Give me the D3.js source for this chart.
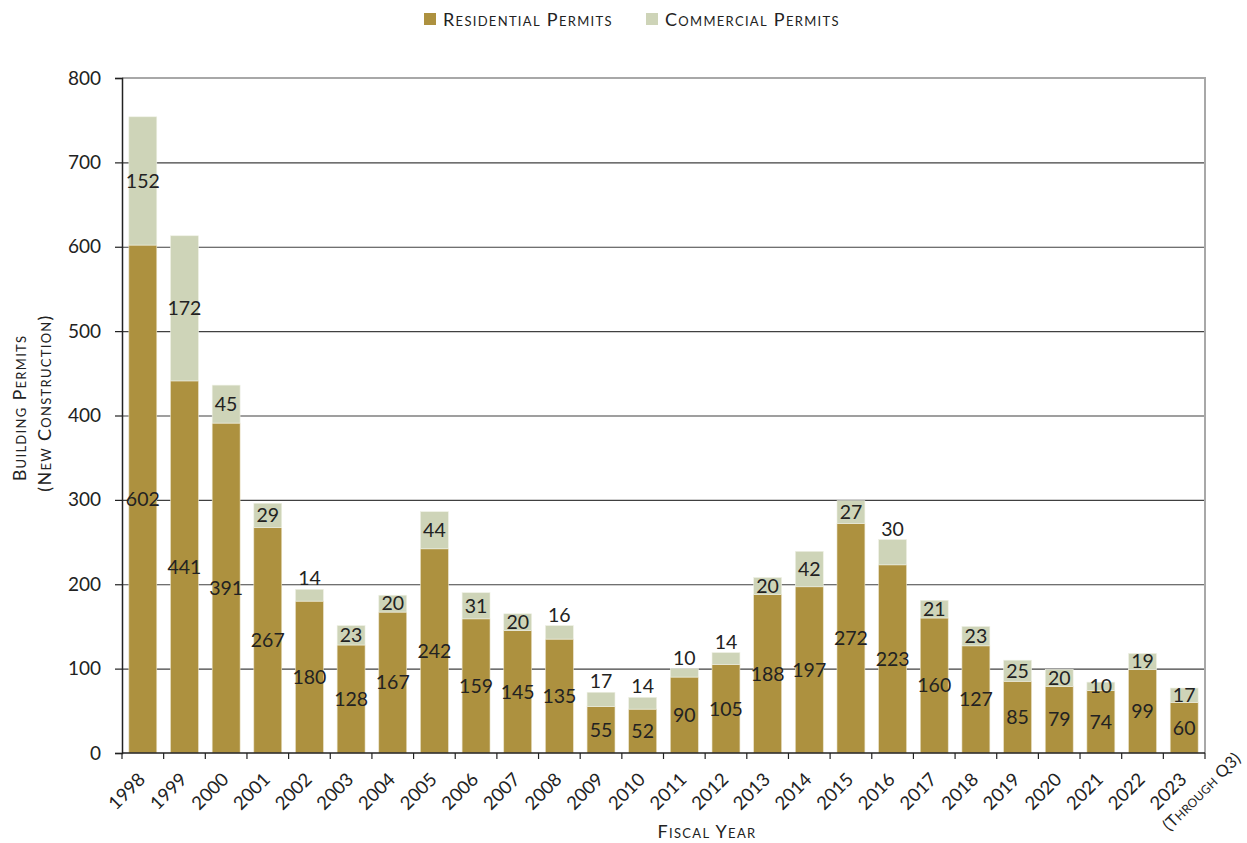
<!DOCTYPE html>
<html>
<head>
<meta charset="utf-8">
<script src="https://cdn.jsdelivr.net/npm/d3@7"></script>
<style>
  html, body { margin: 0; padding: 0; background: #fff; }
  svg { display: block; font-family: Lato, "Open Sans", sans-serif; }
</style>
</head>
<body>
<svg id="chart" width="1247" height="843"></svg>
<script>
// Fiscal years and permit counts (new construction)
const years = ["1998","1999","2000","2001","2002","2003","2004","2005","2006","2007","2008","2009","2010",
               "2011","2012","2013","2014","2015","2016","2017","2018","2019","2020","2021","2022","2023"];
const residential = [602,441,391,267,180,128,167,242,159,145,135,55,52,90,105,188,197,272,223,160,127,85,79,74,99,60];
const commercial  = [152,172,45,29,14,23,20,44,31,20,16,17,14,10,14,20,42,27,30,21,23,25,20,10,19,17];
const yTicks = [0,100,200,300,400,500,600,700,800];
// years whose commercial count is printed above the bar instead of inside it
const labelAboveYears = ["2002","2008","2009","2010","2011","2012","2016"];
const seriesNames = ["Residential Permits","Commercial Permits"];

const colors = { residential: "#ad913f", commercial: "#ced4b8" };
const plotLeft = 122, plotRight = 1205, plotTop = 78, plotBottom = 753;

const svg = d3.select("#chart");

const x = d3.scaleBand().domain(years).range([plotLeft, plotRight]).paddingInner(0.33).paddingOuter(0.165);
const y = d3.scaleLinear().domain([0, 800]).range([plotBottom, plotTop]);

// horizontal gridlines
svg.append("g")
  .attr("transform", `translate(${plotLeft},0)`)
  .call(d3.axisLeft(y).tickValues(yTicks.filter(v => v > 0 && v < 800)).tickSize(-(plotRight - plotLeft)).tickFormat(""))
  .call(g => g.select(".domain").remove())
  .call(g => g.selectAll("line").attr("stroke", "#404040").attr("stroke-width", 1.2));

// plot frame: top and right edges
svg.append("path")
  .attr("d", `M${plotLeft},${y(800)}H${plotRight}V${plotBottom}`)
  .attr("fill", "none").attr("stroke", "#a8a8a8").attr("stroke-width", 2);

const rows = years.map((yr, i) => ({ year: yr, res: residential[i], com: commercial[i] }));

// stacked bars
const barG = svg.append("g");
barG.selectAll("rect.res").data(rows).join("rect")
  .attr("class", "res")
  .attr("x", d => x(d.year)).attr("width", x.bandwidth())
  .attr("y", d => y(d.res)).attr("height", d => y(0) - y(d.res))
  .attr("fill", colors.residential).attr("stroke", "#e9e2c8").attr("stroke-width", 0.6);
barG.selectAll("rect.com").data(rows).join("rect")
  .attr("class", "com")
  .attr("x", d => x(d.year)).attr("width", x.bandwidth())
  .attr("y", d => y(d.res + d.com)).attr("height", d => y(d.res) - y(d.res + d.com))
  .attr("fill", colors.commercial).attr("stroke", "#eef0e4").attr("stroke-width", 0.6);

// y axis
svg.append("g")
  .attr("transform", `translate(${plotLeft},0)`)
  .call(d3.axisLeft(y).tickValues(yTicks).tickSize(7).tickPadding(14).tickFormat(d3.format("d")))
  .call(g => g.select(".domain").attr("stroke", "#222").attr("stroke-width", 1.5))
  .call(g => g.selectAll("line").attr("stroke", "#222").attr("stroke-width", 1.2))
  .call(g => g.selectAll("text").attr("font-size", 19).attr("fill", "#222")
    .attr("font-family", "Lato, 'Open Sans', sans-serif"));

// x axis line and category separators
svg.append("line")
  .attr("x1", plotLeft).attr("x2", plotRight).attr("y1", plotBottom).attr("y2", plotBottom)
  .attr("stroke", "#222").attr("stroke-width", 1.5);
svg.append("g").selectAll("line").data(d3.range(years.length + 1)).join("line")
  .attr("x1", i => x.range()[0] + i * x.step()).attr("x2", i => x.range()[0] + i * x.step())
  .attr("y1", plotBottom).attr("y2", plotBottom + 6)
  .attr("stroke", "#222").attr("stroke-width", 1.2);

// x tick labels, rotated
const xl = svg.append("g").selectAll("g").data(years).join("g")
  .attr("transform", d => `translate(${x(d) + x.bandwidth() / 2 - 1},776) rotate(-45)`);
xl.append("text")
  .attr("text-anchor", "end").attr("dy", "0.35em")
  .attr("font-size", 18.5).attr("fill", "#222")
  .text(d => d);
xl.filter(d => d === "2023").append("text")
  .attr("text-anchor", "middle").attr("x", 2).attr("y", 24).attr("dy", "0.35em")
  .attr("font-size", 16.5).attr("fill", "#222").style("font-variant", "small-caps")
  .style("letter-spacing", "0.3px")
  .text("(Through Q3)");

// value labels
const labG = svg.append("g").attr("font-size", 19.5).attr("fill", "#222").attr("text-anchor", "middle");
labG.selectAll("text.res").data(rows).join("text")
  .attr("class", "res")
  .attr("x", d => x(d.year) + x.bandwidth() / 2)
  .attr("y", d => (y(0) + y(d.res)) / 2).attr("dy", "0.35em")
  .text(d => d.res);
labG.selectAll("text.com").data(rows).join("text")
  .attr("class", "com")
  .attr("x", d => x(d.year) + x.bandwidth() / 2)
  .attr("y", d => labelAboveYears.includes(d.year) ? y(d.res + d.com) - 4 : (y(d.res) + y(d.res + d.com)) / 2)
  .attr("dy", d => labelAboveYears.includes(d.year) ? "0" : "0.35em")
  .text(d => d.com);

// axis titles
const titleStyle = t => t.attr("fill", "#222").style("font-variant", "small-caps")
  .attr("font-size", 18).style("letter-spacing", "1.3px");
svg.append("text").attr("transform", "translate(26,408) rotate(-90)")
  .attr("text-anchor", "middle").call(titleStyle).text("Building Permits");
svg.append("text").attr("transform", "translate(51,403) rotate(-90)")
  .attr("text-anchor", "middle").call(titleStyle).text("(New Construction)");
svg.append("text").attr("x", 707).attr("y", 838)
  .attr("text-anchor", "middle").call(titleStyle).text("Fiscal Year");

// legend
const legend = svg.append("g");
const legendItems = [
  { name: seriesNames[0], color: colors.residential, x: 424 },
  { name: seriesNames[1], color: colors.commercial, x: 646 }
];
const li = legend.selectAll("g").data(legendItems).join("g")
  .attr("transform", d => `translate(${d.x},13)`);
li.append("rect").attr("width", 12).attr("height", 12).attr("fill", d => d.color);
li.append("text").attr("x", 19).attr("y", 12.5).call(titleStyle).text(d => d.name);
</script>
</body>
</html>
